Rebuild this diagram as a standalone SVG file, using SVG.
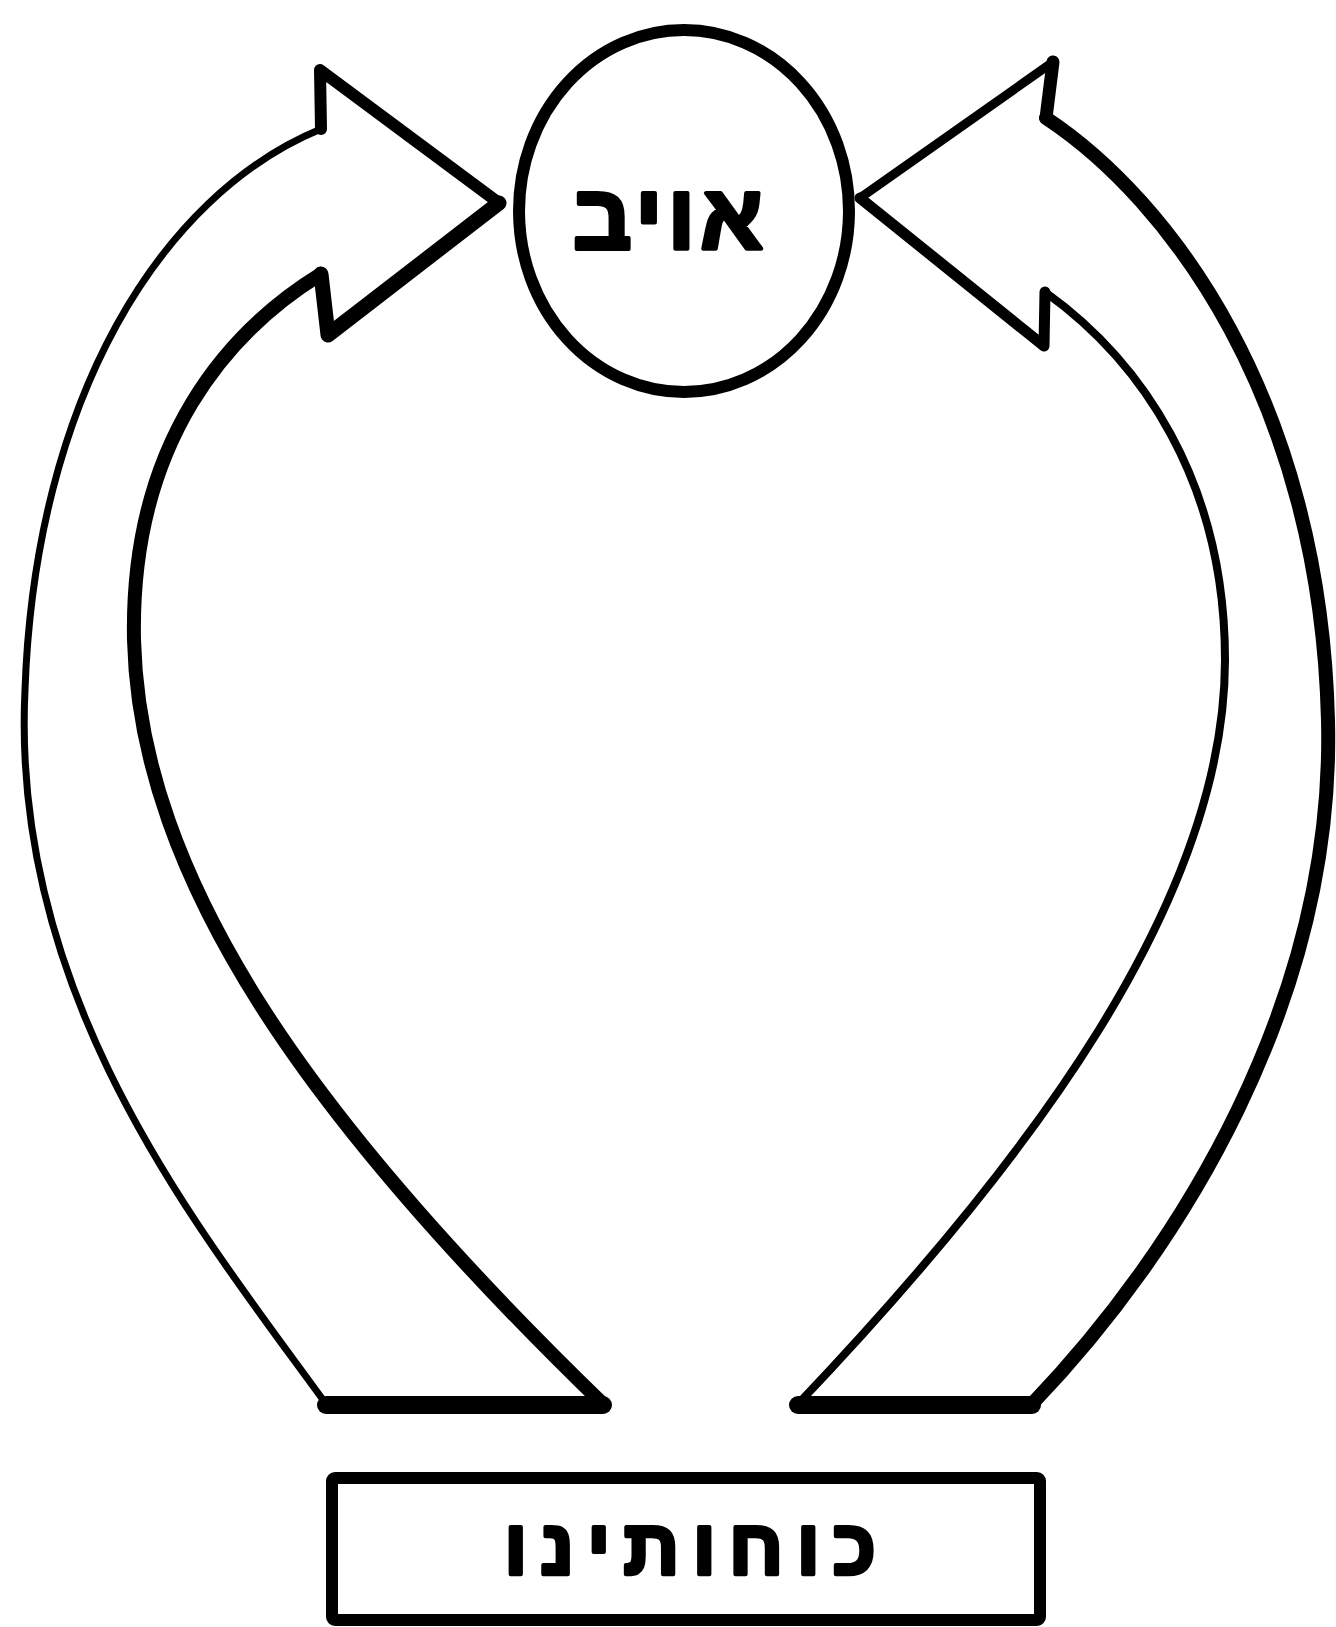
<svg xmlns="http://www.w3.org/2000/svg" width="1336" height="1627" viewBox="0 0 1336 1627">
<style>
.ln{fill:none;stroke:#000;stroke-linejoin:round;stroke-linecap:round}
.body{fill:#fff;stroke:none}
.t{font-family:"Liberation Sans","DejaVu Sans",sans-serif;font-weight:bold;fill:#000;stroke:#000;stroke-width:4;stroke-linejoin:round}
</style>
<rect width="1336" height="1627" fill="#fff"/>
<g id="connectors">
  <g id="arrow-left">
    <path class="body" d="M320,70 L499,203 L328,335 L321,274 C230,330 130,440 134,640 C140,880 310,1120 603,1404 L326,1404 C200,1250 10,1000 25,690 C35,400 160,195 321,129 Z"/>
    <path class="ln" stroke-width="7" d="M321,129 C160,195 35,400 25,690 C10,1000 200,1230 326,1404"/>
    <path class="ln" stroke-width="14" d="M321,274 C230,330 130,440 134,640 C140,880 310,1120 603,1404"/>
    <path class="ln" stroke-width="18" d="M326,1405 L603,1405"/>
    <path class="ln" stroke-width="12" d="M321,129 L320,70 L499,203"/>
    <path class="ln" stroke-width="15" d="M499,203 L328,335 L321,274"/>
  </g>
  <g id="arrow-right">
    <path class="body" d="M1053,62 L860,198 L1044,346 L1045,292 C1140,360 1225,480 1225,660 C1225,900 1030,1160 798,1404 L1032,1404 C1180,1250 1335,1000 1328,720 C1320,400 1170,200 1046,118 Z"/>
    <path class="ln" stroke-width="14" d="M1046,118 C1170,200 1320,400 1328,720 C1335,1000 1180,1250 1032,1404"/>
    <path class="ln" stroke-width="8" d="M1045,292 C1140,360 1225,480 1225,660 C1225,900 1030,1160 798,1404"/>
    <path class="ln" stroke-width="18" d="M798,1405 L1032,1405"/>
    <path class="ln" stroke-width="13" d="M1046,118 L1053,62"/>
    <path class="ln" stroke-width="9" d="M1053,62 L860,198"/>
    <path class="ln" stroke-width="11" d="M860,198 L1044,346 L1045,292"/>
  </g>
</g>
<g id="node-enemy">
  <ellipse cx="684" cy="211" rx="165" ry="181" fill="#fff" stroke="#000" stroke-width="12"/>
  <text class="t" x="668" y="249" font-size="92" text-anchor="middle" textLength="190" lengthAdjust="spacing">אויב</text>
</g>
<g id="node-forces">
  <rect x="332" y="1478" width="708" height="142" fill="#fff" stroke="#000" stroke-width="12" rx="3"/>
  <text class="t" x="690" y="1574" font-size="78" text-anchor="middle" textLength="372" lengthAdjust="spacing">כוחותינו</text>
</g>
</svg>
